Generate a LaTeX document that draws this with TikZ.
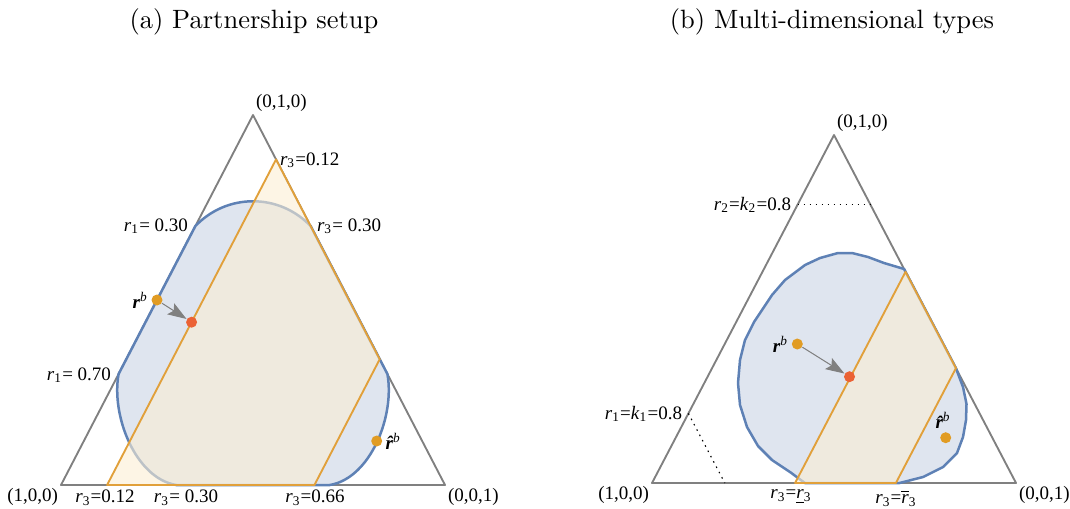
\documentclass[tikz,border=0pt]{standalone}
\usepackage{fontspec}
\newfontfamily\mmafont{Liberation Serif}
\usetikzlibrary{arrows.meta}
\definecolor{mmablue}{HTML}{5E81B5}
\definecolor{mmaorange}{HTML}{E1A03A}
\definecolor{mmared}{HTML}{EB6235}
\definecolor{dotorange}{HTML}{E19C24}
\definecolor{bluefill}{HTML}{DFE5EF}
\definecolor{orangefill}{HTML}{FBEED3}
\newcommand{\rv}[1]{\textit{r}\textsubscript{#1}}
\newcommand{\kv}[1]{\textit{k}\textsubscript{#1}}
\newcommand{\rb}{\textbf{\textit{r}}\textsuperscript{\textit{b}}}
\newcommand{\rhb}{{\bfseries\itshape\^r}\textsuperscript{\textit{b}}}

\begin{document}
\begin{tikzpicture}[x=0.4pt, y=-0.4pt,
  tri/.style={draw=gray, line width=0.75pt, line join=round},
  region/.style={draw=mmablue, line width=1pt, fill=bluefill, line join=round},
  band/.style={draw=mmaorange, line width=0.75pt, fill=orangefill, fill opacity=0.6, line join=round},
  guide/.style={line width=0.45pt, dash pattern=on 0.6pt off 1.8pt},
  lab/.style={font=\mmafont\fontsize{7.6}{9}\selectfont, inner sep=1pt},
  subcap/.style={font=\fontsize{10.6}{13}\selectfont},
  ball/.style={circle, fill=#1, inner sep=0pt, minimum size=4.4pt},
  push/.style={draw=gray, line width=0.4pt, -{Stealth[length=7.5pt, width=5.2pt, inset=1.4pt]}, fill=gray}]
\useasboundingbox (0,0) rectangle (1070,508);
\node[subcap] (capa) at (254,22) {(a) Partnership setup};
\node[subcap] (capb) at (832,22) {(b) Multi-dimensional types};

\coordinate (L1) at (61,485);
\coordinate (L2) at (253,115);
\coordinate (L3) at (445,485);
\draw[tri] (L1) -- (L2) -- (L3) -- cycle;
\draw[region] (barycentric cs:L1=0.3,L2=0.7) -- (barycentric cs:L1=0.7,L2=0.3)
  .. controls (111,415) and (135,478) .. (barycentric cs:L1=0.7,L3=0.3)
  -- (barycentric cs:L1=0.3,L3=0.7)
  .. controls (371,478) and (395,415) .. (barycentric cs:L2=0.3,L3=0.7)
  -- (barycentric cs:L2=0.7,L3=0.3)
  .. controls (279,193) and (227,193) .. (barycentric cs:L1=0.3,L2=0.7) -- cycle;
\draw[band] (barycentric cs:L1=0.88,L3=0.12) -- (barycentric cs:L2=0.88,L3=0.12)
  -- (barycentric cs:L2=0.34,L3=0.66) -- (barycentric cs:L1=0.34,L3=0.66) -- cycle;
\node[ball=dotorange] (rb) at (barycentric cs:L1=0.5,L2=0.5) {};
\node[ball=mmared] (rs) at (barycentric cs:L1=0.44,L2=0.44,L3=0.12) {};
\node[ball=dotorange] (rh) at (376.7,441) {};
\draw[push] (rb) -- (rs);
\node[lab, anchor=east] (rbl) at (rb.west) {\rb};
\node[lab, anchor=west] (rhl) at (rh.east) {\rhb};
\node[lab, anchor=south west] (l010) at (L2) {(0,1,0)};
\node[lab, anchor=north east] (l100) at (L1) {(1,0,0)};
\node[lab, anchor=north west] (l001) at (L3) {(0,0,1)};
\node[lab, anchor=west] (t1) at (277,160) {\rv{3}=0.12};
\node[lab, anchor=east] (t2) at (191,226) {\rv{1}= 0.30};
\node[lab, anchor=west] (t3) at (314,226) {\rv{3}= 0.30};
\node[lab, anchor=east] (t4) at (114,375) {\rv{1}= 0.70};
\node[lab, anchor=north] (t5) at (105,487) {\rv{3}=0.12};
\node[lab, anchor=north] (t6) at (186,487) {\rv{3}= 0.30};
\node[lab, anchor=north] (t7) at (315,487) {\rv{3}=0.66};

\coordinate (R1) at (652,483);
\coordinate (R2) at (834,135);
\coordinate (R3) at (1016,483);
\draw[tri] (R1) -- (R2) -- (R3) -- cycle;
\draw[region] (barycentric cs:R1=0.58,R3=0.42) -- (790,472) -- (772,460) -- (758,446)
  -- (747,427) -- (740,405) -- (738,383) -- (740,360) -- (745,340) -- (754,322)
  -- (772,295) -- (785,280) -- (805,265) -- (820,258) -- (838,253) -- (852,253)
  -- (868,257) -- (884,263) -- (barycentric cs:R2=0.615,R3=0.385)
  -- (barycentric cs:R2=0.33,R3=0.67) -- (963,387) -- (966.5,404) -- (966,420)
  -- (963,437) -- (957,453) -- (943,467) -- (923,477)
  -- (barycentric cs:R1=0.32,R3=0.68) -- cycle;
\draw[band] (barycentric cs:R1=0.607,R3=0.393) -- (barycentric cs:R2=0.607,R3=0.393)
  -- (barycentric cs:R2=0.33,R3=0.67) -- (barycentric cs:R1=0.33,R3=0.67) -- cycle;
\draw[guide] (barycentric cs:R1=0.2,R2=0.8) -- (barycentric cs:R2=0.8,R3=0.2);
\draw[guide] (barycentric cs:R1=0.8,R2=0.2) -- (barycentric cs:R1=0.8,R3=0.2);
\node[ball=dotorange] (rb2) at (797.3,344) {};
\node[ball=mmared] (rs2) at (849.5,376.7) {};
\node[ball=dotorange] (rh2) at (945.7,437.7) {};
\draw[push] (rb2) -- (rs2);
\node[lab, anchor=east] (rbl2) at (rb2.west) {\rb};
\node[lab, anchor=south] (rhl2) at ([xshift=-1pt]rh2.north) {\rhb};
\node[lab, anchor=south west] (m010) at (R2) {(0,1,0)};
\node[lab, anchor=north east] (m100) at (R1) {(1,0,0)};
\node[lab, anchor=north west] (m001) at (R3) {(0,0,1)};
\node[lab, anchor=east] (k2) at (794,205) {\rv{2}=\kv{2}=0.8};
\node[lab, anchor=east] (k1) at (685,414) {\rv{1}=\kv{1}=0.8};
\node[lab, anchor=north] (lo) at (791,487) {\rv{3}=\underline{\textit{r}}\textsubscript{3}};
\node[lab, anchor=north] (hi) at (896,487) {\rv{3}=$\overline{\hbox{\textit{r}}}$\textsubscript{3}};
\end{tikzpicture}
\end{document}
